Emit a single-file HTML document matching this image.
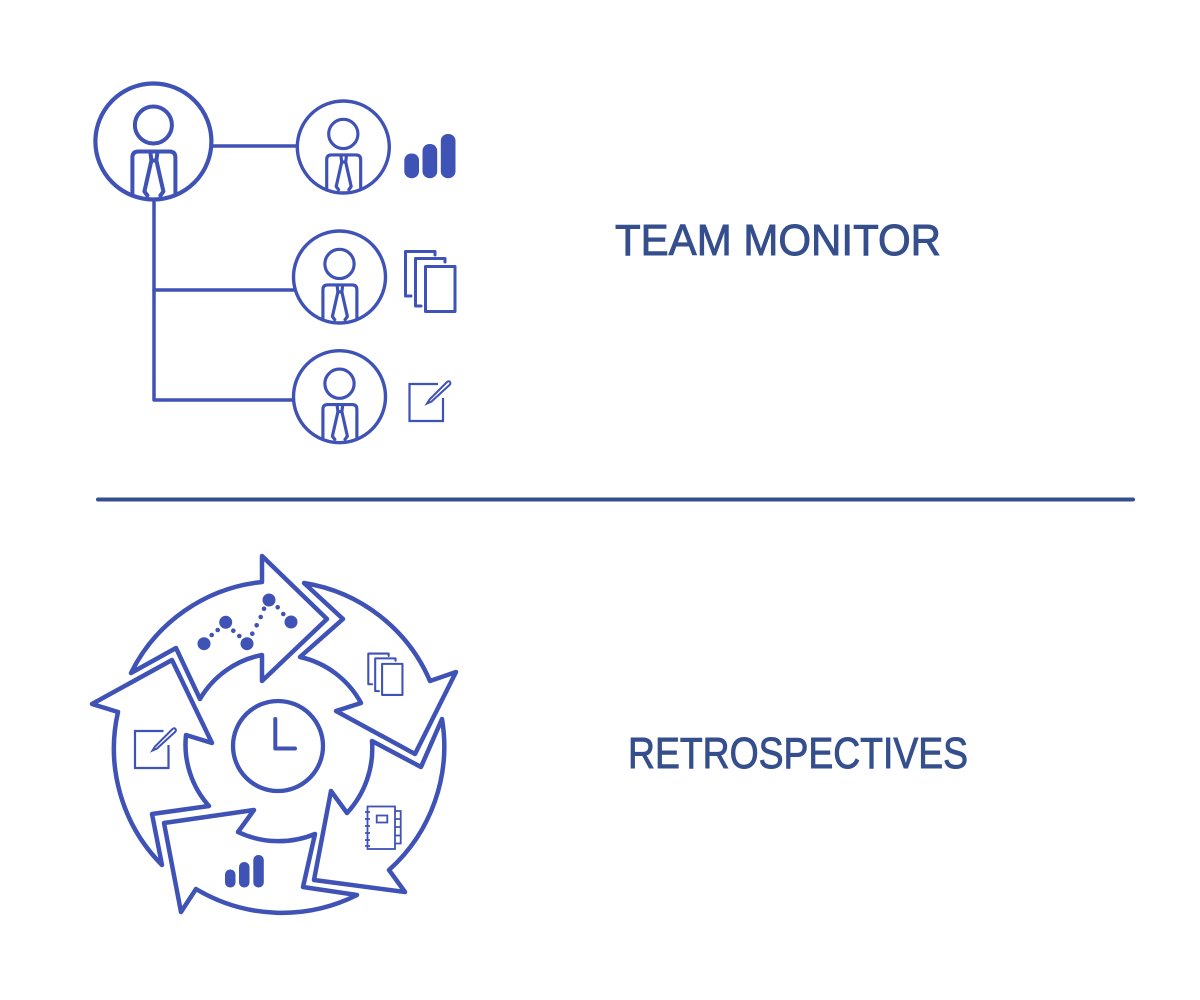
<!DOCTYPE html>
<html>
<head>
<meta charset="utf-8">
<style>
html,body{margin:0;padding:0;background:#fff}
svg{display:block}
text{font-family:"Liberation Sans",sans-serif;fill:#354e8c;stroke:#354e8c;stroke-width:.9px;font-size:44px}
</style>
</head>
<body>
<svg width="1200" height="1000" viewBox="0 0 1200 1000" xmlns="http://www.w3.org/2000/svg">
<defs>
<g id="person" fill="none" stroke="#3f52b5" stroke-linejoin="round" stroke-linecap="round">
<circle cx="0" cy="-16.5" r="18.5"/>
<path d="M-21,53 V16 Q-21,10 -15,10 H16 Q22,10 22,16 V53"/>
<path d="M-3,11 L-2,19 H3 L4,11 M-2,19 L-9,50 L-6,54 M7,54 L10,50 L3,19"/>
</g>
<g id="pages" fill="none" stroke="#3f52b5" stroke-linejoin="round" stroke-linecap="round">
<rect x="425.5" y="266.5" width="29.5" height="45"/>
<path d="M421,306 H415.500 V258.500 H445 V262"/>
<path d="M411,296 H405.500 V251.500 H435 V255"/>
</g>
<g id="note" fill="none" stroke="#3f52b5" stroke-linejoin="miter" stroke-linecap="butt">
<path d="M438,384 H409.500 V421 H443 V398" stroke-width="2.200"/>
<path d="M427,403.500 L429.500,399.500 L447,382 Q449,380.500 450,382 Q451,383.500 449.500,385 L431.500,401.500 Z" stroke-width="2"/>
</g>
</defs>

<!-- Team monitor connectors -->
<g stroke="#3f52b5" stroke-width="3.500" fill="none" stroke-linecap="round" stroke-linejoin="round">
<path d="M212,146 H297"/>
<path d="M154,200 V400 H293"/>
<path d="M154,290 H294"/>
</g>

<!-- People -->
<g fill="none" stroke="#3f52b5">
<circle cx="153.400" cy="141.500" r="58" stroke-width="4.200"/>
<circle cx="343.300" cy="147" r="46" stroke-width="3.400"/>
<circle cx="339.500" cy="277" r="46" stroke-width="3.400"/>
<circle cx="339.500" cy="396.700" r="46" stroke-width="3.400"/>
</g>
<use href="#person" transform="translate(153.400,141.500)" stroke-width="4"/>
<use href="#person" transform="translate(343.300,147) scale(.79)" stroke-width="4"/>
<use href="#person" transform="translate(339.500,277) scale(.79)" stroke-width="4"/>
<use href="#person" transform="translate(339.500,396.700) scale(.79)" stroke-width="4"/>

<!-- Top icons -->
<g fill="#3f52b5">
<rect x="404.300" y="153.500" width="14.700" height="24.700" rx="7"/>
<rect x="422.500" y="144" width="14.700" height="34.200" rx="7"/>
<rect x="440.800" y="134" width="14.700" height="44.200" rx="7"/>
</g>
<use href="#pages" stroke-width="3"/>
<use href="#note"/>

<text x="615" y="255" textLength="326" lengthAdjust="spacingAndGlyphs">TEAM MONITOR</text>

<!-- Divider -->
<path d="M98,499.500 H1133" stroke="#354e8c" stroke-width="4" stroke-linecap="round"/>

<!-- Cycle arrows -->
<g fill="none" stroke="#3f52b5" stroke-width="4.500" stroke-linejoin="round" stroke-linecap="round">
<path d="M176,648 L131,673 A165,165 0 0 1 262,582 L262,556 L327,619 L262,681 L262,655 A92,92 0 0 0 200,699 Z"/>
<path d="M304,583 A165,165 0 0 1 430,681 L456,672 L415,754 L336,711 L361,703 A92,92 0 0 0 300,657 L343,619 Z"/>
<path d="M442,719 A166,166 0 0 1 389,870 L405,892 L314,880 L331,791 L347,813 A95,95 0 0 0 372,741 L421,767 Z"/>
<path d="M357,895 A167,167 0 0 1 196,889 L181,912 L164,823 L254,810 L238,832 A95,95 0 0 0 315,834 L303,887 Z"/>
<path d="M162,865 A165,165 0 0 1 118,712 L92,704 L172,660 L212,743 L186,735 A92,92 0 0 0 209,806 L152,814 Z"/>
</g>

<!-- Clock -->
<circle cx="278" cy="746" r="45" fill="none" stroke="#3f52b5" stroke-width="4.300"/>
<path d="M275.300,719 V748.500 H295" fill="none" stroke="#3f52b5" stroke-width="4" stroke-linecap="round" stroke-linejoin="round"/>

<!-- Dots chart -->
<g fill="#3f52b5">
<circle cx="204" cy="643.700" r="6.500"/>
<circle cx="225.700" cy="622.300" r="6.500"/>
<circle cx="247" cy="643.700" r="6.500"/>
<circle cx="269" cy="600" r="6.500"/>
<circle cx="291" cy="622" r="6.500"/>
<circle cx="211.700" cy="635" r="2.300"/>
<circle cx="217.700" cy="630" r="2.300"/>
<circle cx="233.300" cy="630.700" r="2.300"/>
<circle cx="239.300" cy="636" r="2.300"/>
<circle cx="252.300" cy="633.700" r="2.300"/>
<circle cx="256.700" cy="625.300" r="2.300"/>
<circle cx="260.700" cy="617" r="2.300"/>
<circle cx="264" cy="608.700" r="2.300"/>
<circle cx="277.700" cy="607.300" r="2.300"/>
<circle cx="283.300" cy="614" r="2.300"/>
</g>

<!-- Small pages -->
<use href="#pages" transform="translate(88.500,480) scale(.69)" stroke-width="3"/>

<!-- Small note -->
<use href="#note" transform="translate(-274.500,347)"/>

<!-- Small bars -->
<g fill="#3f52b5">
<rect x="225" y="869.500" width="10.500" height="18" rx="5"/>
<rect x="239" y="862" width="10.500" height="25.500" rx="5"/>
<rect x="253.300" y="855" width="10.500" height="32.500" rx="5"/>
</g>

<!-- Notebook -->
<g fill="none" stroke="#3f52b5" stroke-width="1.800">
<rect x="367.500" y="806.500" width="27.500" height="42.500"/>
<rect x="376.700" y="815.500" width="10.600" height="7"/>
<path d="M395,811 H400.700 V843.500 H395 M395,819 H400.700 M395,827 H400.700 M395,835.500 H400.700"/>
<path d="M365,812 H370 M365,819 H370 M365,826 H370 M365,833 H370 M365,840 H370 M365,846 H370"/>
</g>

<text x="628" y="768" textLength="340" lengthAdjust="spacingAndGlyphs">RETROSPECTIVES</text>
</svg>
</body>
</html>
